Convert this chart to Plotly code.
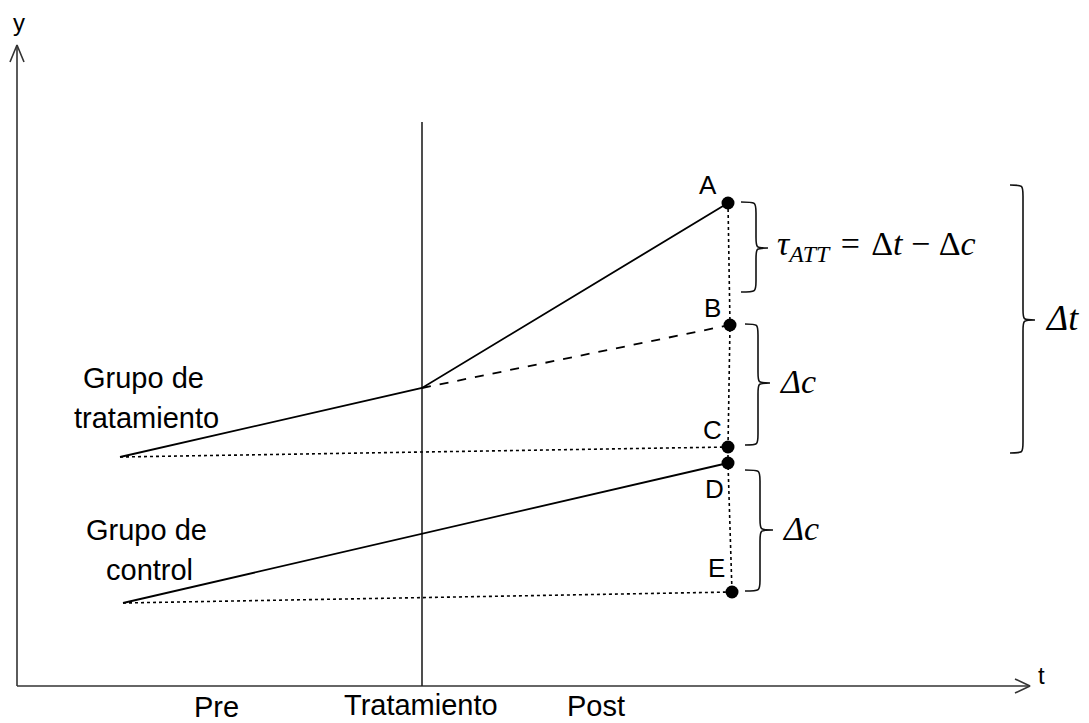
import plotly.graph_objects as go

# ---------------- data (diagram units: horizontal = time, vertical = outcome) -------------
T_START = 121          # start of pre period
T_TREAT = 422          # moment of treatment
POINT_LABELS = ["A", "B", "C", "D", "E"]
POINT_T = [728, 730, 728, 728, 732]      # post period positions of A..E
POINT_Y = [520, 398, 276, 260, 131]      # outcome values of A..E
TREAT_PRE_Y = 266       # treatment group outcome at start
TREAT_AT_Y = 335        # treatment group outcome at treatment
CONTROL_PRE_Y = 120     # control group outcome at start
AXIS_ORIGIN = (17, 37)
AXIS_T_END = 1030
AXIS_Y_END = 678
TREAT_LINE_TOP = 601
X_TICK_LABELS = ["Pre", "Tratamiento", "Post"]
X_TICK_POS = [216, 421, 596]
X_TICK_YOFF = [16, 18, 17]

A, B, C, D, E = [(t, y) for t, y in zip(POINT_T, POINT_Y)]

INK = "#000000"
AXIS_INK = "#333333"
SANS = "Liberation Sans, Arial, sans-serif"
SERIF = "Liberation Serif, Times New Roman, serif"

fig = go.Figure()

def line(xs, ys, dash="solid", width=1.8, color=INK):
    fig.add_trace(go.Scatter(x=xs, y=ys, mode="lines", hoverinfo="skip",
                             line=dict(color=color, width=width, dash=dash),
                             showlegend=False))

# axes
ox, oy = AXIS_ORIGIN
line([ox, AXIS_T_END], [oy, oy], width=1.6, color=AXIS_INK)
line([ox, ox], [oy, AXIS_Y_END], width=1.6, color=AXIS_INK)
# chevrons
line([AXIS_T_END - 15, AXIS_T_END, AXIS_T_END - 15], [oy + 7, oy, oy - 7], width=1.6, color=AXIS_INK)
line([ox - 7, ox, ox + 7], [AXIS_Y_END - 17, AXIS_Y_END, AXIS_Y_END - 17], width=1.6, color=AXIS_INK)

# treatment vertical line
line([T_TREAT, T_TREAT], [oy, TREAT_LINE_TOP], width=1.6, color="#222222")

# treatment group
line([T_START - 1, T_TREAT, A[0]], [TREAT_PRE_Y, TREAT_AT_Y, A[1]])
line([T_TREAT, B[0]], [TREAT_AT_Y, B[1]], dash="dash")
line([T_START - 1, C[0]], [TREAT_PRE_Y, C[1]], dash="dot", width=1.6)

# control group
line([T_START + 2, D[0]], [CONTROL_PRE_Y, D[1]])
line([T_START + 2, E[0]], [CONTROL_PRE_Y, E[1]], dash="dot", width=1.6)

# vertical dotted connector
line([A[0], B[0], C[0], D[0], E[0]], [A[1], B[1], C[1], D[1], E[1]], dash="dot", width=1.6)

# points
fig.add_trace(go.Scatter(x=POINT_T, y=POINT_Y, mode="markers", hoverinfo="skip",
                         marker=dict(color=INK, size=13), showlegend=False))

# braces
def brace(x0, xs, xt, yt, yb, ym):
    r = min(11, (yt - yb) / 4)
    return (f"M {x0},{yt} C {xs},{yt} {xs},{yt} {xs},{yt - r} "
            f"L {xs},{ym + r} C {xs},{ym} {xs},{ym} {xt},{ym} "
            f"C {xs},{ym} {xs},{ym} {xs},{ym - r} "
            f"L {xs},{yb + r} C {xs},{yb} {xs},{yb} {x0},{yb}")

BRACES = [
    (741, 756, 768, 521, 431, 475),
    (745, 758, 770, 399, 278, 340),
    (1010, 1023, 1035, 538, 270, 403),
    (745, 760, 773, 253, 132, 193),
]
for b in BRACES:
    fig.add_shape(type="path", path=brace(*b), xref="x", yref="y",
                  line=dict(color="#111111", width=1.6))

ann = []
def text(x, y, s, size, font=SANS, xanchor="center"):
    ann.append(dict(x=x, y=y, text=s, showarrow=False, xanchor=xanchor, yanchor="middle",
                    font=dict(family=font, size=size, color=INK)))

# point labels
LABEL_POS = [(708, 538), (712, 415), (712, 293), (714, 234), (716, 155)]
for lab, (x, y) in zip(POINT_LABELS, LABEL_POS):
    text(x, y, lab, 26)

# math labels
text(775, 477, "<i>τ</i><sub><i>ATT</i></sub>\u2004=\u2004Δ<i>t</i>\u2005−\u2005Δ<i>c</i>", 34, SERIF, "left")
text(777, 342, "<i>Δc</i>", 34, SERIF, "left")
text(1043, 405, "<i>Δt</i>", 36, SERIF, "left")
text(780, 195, "<i>Δc</i>", 34, SERIF, "left")

# group labels
text(143, 345, "Grupo de", 29)
text(146, 305, "tratamiento", 29)
text(146, 193, "Grupo de", 29)
text(149, 153, "control", 29)

# axis labels
text(19, 701, "y", 24)
text(1041, 48, "t", 24)
for lab, x, y in zip(X_TICK_LABELS, X_TICK_POS, X_TICK_YOFF):
    text(x, y, lab, 29)

fig.update_layout(
    width=1089, height=723,
    margin=dict(l=0, r=0, t=0, b=0),
    paper_bgcolor="white", plot_bgcolor="white",
    xaxis=dict(range=[0, 1089], visible=False, fixedrange=True),
    yaxis=dict(range=[0, 723], visible=False, fixedrange=True),
    annotations=ann,
    showlegend=False,
)

fig.write_html("out.html", config={"displayModeBar": False},
               post_script="document.body.style.margin='0';document.body.style.overflow='hidden';")
